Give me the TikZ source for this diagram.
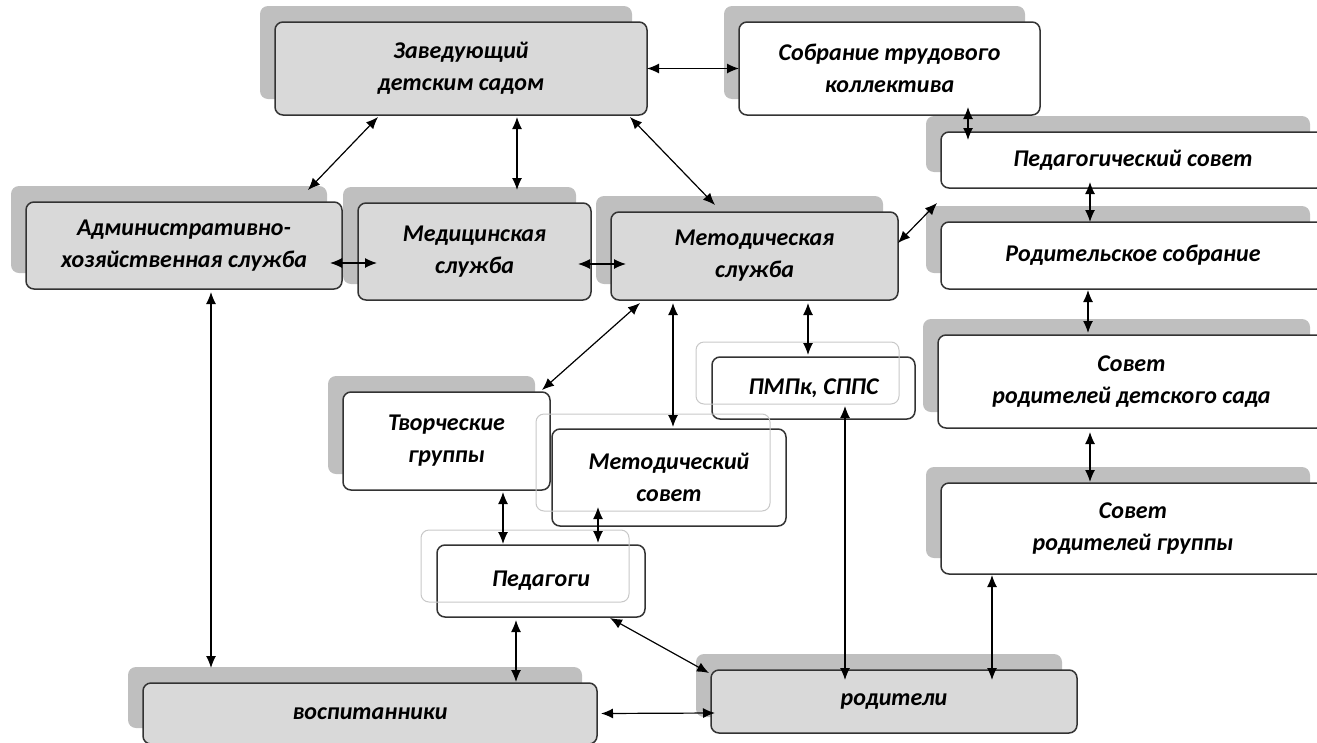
\documentclass[tikz,border=0pt]{standalone}
\usepackage{fontspec}
\setmainfont{Carlito}
\usetikzlibrary{arrows.meta,calc,shadows}
\definecolor{boxg}{HTML}{D9D9D9}
\definecolor{shadowc}{HTML}{BFBFBF}
\definecolor{ghostc}{HTML}{C8C8C8}
\definecolor{linec}{HTML}{333333}
\begin{document}
\begin{tikzpicture}[x=1pt,y=-1pt,
  box/.style={draw=linec, line width=1.5pt, rounded corners=8pt, anchor=north west,
    inner sep=0pt, outer sep=0pt, align=center,
    font=\fontsize{24}{32}\selectfont\bfseries\itshape},
  shbox/.style={box, general shadow={shadow xshift=-15pt, shadow yshift=16pt, fill=shadowc, draw=none}},
  ghost/.style={draw=ghostc, line width=1pt, rounded corners=8pt},
  dbl/.style={draw=black, line width=1.2pt, {Latex[length=12pt,width=10pt]}-{Latex[length=12pt,width=10pt]}}
]
\useasboundingbox (0,0) rectangle (1317,742);
% boxes
\node[shbox, fill=boxg, minimum width=372pt, minimum height=93pt] (zav) at (275,22) {Заведующий\\детским  садом};
\node[shbox, fill=white, minimum width=301pt, minimum height=93pt] (sob) at (739,22) {Собрание трудового\\коллектива};
\node[shbox, fill=white, minimum width=384pt, minimum height=56pt] (pedsov) at (941,132) {Педагогический  совет};
\node[shbox, fill=white, minimum width=384pt, minimum height=67pt] (rodsob) at (941,222) {Родительское  собрание};
\node[shbox, fill=boxg, minimum width=316pt, minimum height=87pt] (adm) at (26,202) {Административно-\\хозяйственная  служба};
\node[shbox, fill=boxg, minimum width=233pt, minimum height=97pt] (med) at (358,203) {Медицинская\\служба};
\node[shbox, fill=boxg, minimum width=287pt, minimum height=88pt] (met) at (611,212) {Методическая\\служба};
\node[box, fill=white, minimum width=203pt, minimum height=62pt] (pmpk) at (712,357) {ПМПк,  СППС};
\node[shbox, fill=white, minimum width=387pt, minimum height=93pt] (ds) at (938,335) {Совет\\родителей  детского  сада};
\node[shbox, fill=white, minimum width=207pt, minimum height=98pt] (tvor) at (343,392) {Творческие\\группы};
\node[box, fill=white, minimum width=234pt, minimum height=97pt] (metsov) at (552,429) {Методический\\совет};
\node[shbox, fill=white, minimum width=384pt, minimum height=91pt] (group) at (941,483) {Совет\\родителей  группы};
\node[box, fill=white, minimum width=208pt, minimum height=72pt] (ped) at (437,545) {Педагоги};
\node[shbox, fill=boxg, minimum width=454pt, minimum height=61pt] (vos) at (143,683) {воспитанники};
\node[shbox, fill=boxg, minimum width=366pt, minimum height=63pt] (rod) at (711,670) {родители};
% ghost outlines
\foreach \n in {pmpk,metsov,ped}{
  \draw[ghost] ($(\n.north west)+(-16,-15)$) rectangle ($(\n.south east)+(-16,-15)$);
}
% connectors
\draw[dbl] (zav.east) -- (sob.west);
\draw[dbl] ($(zav.south west)+(103,2)$) -- ($(adm.north east)+(-34,-12)$);
\draw[dbl] ($(zav.south)+(56,2)$) -- ($(med.north)+(42.5,-13)$);
\draw[dbl] ($(zav.south east)+(-17,2)$) -- ($(met.north west)+(104,-7)$);
\draw[dbl] ($(sob.south east)+(-72,-8)$) -- ($(pedsov.north west)+(27,8)$);
\draw[dbl] ($(pedsov.south)+(-43,-6)$) -- ($(rodsob.north)+(-43,0)$);
\draw[dbl] ($(met.east)+(0,-13)$) -- ($(rodsob.north west)+(-4,-19)$);
\draw[dbl] ($(adm.east)+(-12,17.5)$) -- ($(med.west)+(19,11.5)$);
\draw[dbl] ($(med.east)+(-13,12.5)$) -- ($(met.west)+(15,8)$);
\draw[dbl] ($(rodsob.south)+(-45,1)$) -- ($(ds.north)+(-43.5,-2)$);
\draw[dbl] ($(met.south west)+(29,3)$) -- ($(tvor.north east)+(-8,-2)$);
\draw[dbl] ($(met.south west)+(62,3)$) -- ($(metsov.north west)+(121,-2)$);
\draw[dbl] ($(met.south west)+(197,3)$) -- ($(pmpk.north west)+(96,-2)$);
\draw[dbl] ($(ds.south)+(-41.5,4)$) -- ($(group.north)+(-43,-1)$);
\draw[dbl] ($(adm.south)+(27,3)$) -- ($(vos.north west)+(68,-15)$);
\draw[dbl] ($(tvor.south)+(56.5,2)$) -- ($(ped.north west)+(66,-1)$);
\draw[dbl] ($(metsov.south west)+(46,-19)$) -- ($(ped.north west)+(161,-2)$);
\draw[dbl] ($(pmpk.south west)+(133,-13)$) -- ($(rod.north west)+(134,10)$);
\draw[dbl] ($(group.south west)+(51,1)$) -- ($(rod.north west)+(281,10)$);
\draw[dbl] ($(ped.south west)+(79,3)$) -- ($(vos.north west)+(373,-1)$);
\draw[dbl] ($(ped.south east)+(-35,1)$) -- ($(rod.north west)+(-2,3)$);
\draw[dbl] ($(vos.east)+(4,0)$) -- ($(rod.west)+(4,11.5)$);
\end{tikzpicture}
\end{document}
